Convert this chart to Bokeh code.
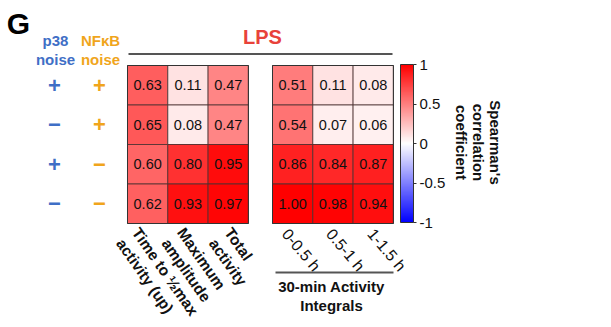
import numpy as np
from bokeh.plotting import figure
from bokeh.models import Range1d, ColumnDataSource, LinearColorMapper, ColorBar, FixedTicker
from bokeh.core.properties import value
from bokeh.embed import file_html
from bokeh.resources import INLINE

# ---------------- data ----------------
p38_noise = ["+", "\u2212", "+", "\u2212"]
nfkb_noise = ["+", "+", "\u2212", "\u2212"]
left_metrics = [["Time to \u00bdmax", "activity (up)"], ["Maximum", "amplitude"], ["Total", "activity"]]
right_metrics = ["0-0.5 h", "0.5-1 h", "1-1.5 h"]
left_values = [
    [0.63, 0.11, 0.47],
    [0.65, 0.08, 0.47],
    [0.60, 0.80, 0.95],
    [0.62, 0.93, 0.97],
]
right_values = [
    [0.51, 0.11, 0.08],
    [0.54, 0.07, 0.06],
    [0.86, 0.84, 0.87],
    [1.00, 0.98, 0.94],
]
cbar_ticks = [-1, -0.5, 0, 0.5, 1]
cbar_labels = ["-1", "-0.5", "0", "0.5", "1"]

# ---------------- layout ----------------
W, H = 611, 327
CW, RH = 40.3, 39.5
LX0, RX0, Y0 = 127.0, 272.0, 65.0
FONT = "Liberation Sans"
BLUE = "#3f6fc6"
ORANGE = "#f0a51c"
LPS_RED = "#e8423a"

# diverging palette blue-white-red
pal = []
for t in np.linspace(0, 1, 256):
    if t < 0.5:
        f = t / 0.5
        r, g, b = int(255 * f), int(255 * f), 255
    else:
        f = (t - 0.5) / 0.5
        r, g, b = 255, int(255 * (1 - f)), int(255 * (1 - f))
    pal.append("#%02x%02x%02x" % (r, g, b))
mapper = LinearColorMapper(palette=pal, low=-1, high=1)

p = figure(width=W, height=H, x_range=Range1d(0, W), y_range=Range1d(H, 0),
           output_backend="svg", toolbar_location=None, min_border=0,
           x_axis_type=None, y_axis_type=None)
p.grid.visible = False
p.outline_line_color = None

# heatmap cells
xs, ys, vs, ts = [], [], [], []
for x0, vals in ((LX0, left_values), (RX0, right_values)):
    for r, row in enumerate(vals):
        for c, v in enumerate(row):
            xs.append(x0 + CW * (c + 0.5))
            ys.append(Y0 + RH * (r + 0.5))
            vs.append(v)
            ts.append("%.2f" % v)
src = ColumnDataSource(dict(x=xs, y=ys, v=vs, t=ts))
p.rect("x", "y", width=CW, height=RH, source=src,
       fill_color={"field": "v", "transform": mapper},
       line_color="#4a3030", line_width=1, line_alpha=0.8)
p.text("x", "y", text="t", source=src, text_align="center", text_baseline="middle",
       text_font=value(FONT), text_font_size="14.5px", text_color="#111111")

# block outlines
for x0 in (LX0, RX0):
    p.rect([x0 + CW * 1.5], [Y0 + RH * 2], width=CW * 3, height=RH * 4,
           fill_alpha=0, line_color="#333333", line_width=1)

# noise indicators
row_y = [Y0 + RH * (r + 0.5) for r in range(len(p38_noise))]
p.text([54] * 4, row_y, text=p38_noise, text_align="center", text_baseline="middle",
       text_font=value(FONT), text_font_style="bold", text_font_size="22px", text_color=BLUE)
p.text([99] * 4, row_y, text=nfkb_noise, text_align="center", text_baseline="middle",
       text_font=value(FONT), text_font_style="bold", text_font_size="22px", text_color=ORANGE)
for cx, lines, col in ((55, ["p38", "noise"], BLUE), (100, ["NF\u03baB", "noise"], ORANGE)):
    p.text([cx, cx], [40, 59], text=lines, text_align="center", text_baseline="middle",
           text_font=value(FONT), text_font_style="bold", text_font_size="15px", text_color=col)
p.text([18], [23], text=["G"], text_align="center", text_baseline="middle",
       text_font=value(FONT), text_font_style="bold", text_font_size="30px", text_color="black")

# LPS header
p.text([262], [36], text=["LPS"], text_align="center", text_baseline="middle",
       text_font=value(FONT), text_font_style="bold", text_font_size="20px", text_color=LPS_RED)
p.segment(x0=[128], y0=[53.5], x1=[392], y1=[53.5], line_color="#555555", line_width=2)

# bottom labels (left block, two lines each)
ang_l = 55.0
lh = 19
dxl, dyl = -np.sin(np.radians(ang_l)) * lh, np.cos(np.radians(ang_l)) * lh
left_off = [-5, 0, 7]
for c, lines in enumerate(left_metrics):
    bx = LX0 + CW * (c + 0.5) + left_off[c]
    by = 224
    p.text([bx + k * dxl for k in range(len(lines))], [by + k * dyl for k in range(len(lines))],
           text=lines, angle=-ang_l, angle_units="deg", text_align="left", text_baseline="top",
           text_font=value(FONT), text_font_style="bold", text_font_size="15.5px", text_color="#111111")
right_off = [-1, 3, 4]
rx = [RX0 + CW * (c + 0.5) + right_off[c] for c in range(3)]
p.text(rx, [225] * 3, text=right_metrics, angle=-50, angle_units="deg",
       text_align="left", text_baseline="top", text_font=value(FONT),
       text_font_size="16px", text_color="#111111")
p.segment(x0=[275], y0=[272], x1=[393], y1=[272], line_color="#555555", line_width=2)
p.text([331, 331], [286, 305], text=["30-min Activity", "Integrals"], text_align="center",
       text_baseline="middle", text_font=value(FONT), text_font_style="bold",
       text_font_size="15px", text_color="#111111")

# colorbar title
p.text([495, 478, 461], [142, 142, 142], text=["Spearman's", "correlation", "coefficient"],
       angle=-90, angle_units="deg", text_align="center", text_baseline="middle",
       text_font=value(FONT), text_font_style="bold", text_font_size="15px", text_color="#111111")

cb = ColorBar(color_mapper=mapper, width=13, height=158, location=(400, H - 222),
              padding=0, margin=0, ticker=FixedTicker(ticks=cbar_ticks),
              major_label_overrides={t: l for t, l in zip(cbar_ticks, cbar_labels)},
              major_label_text_font=FONT, major_label_text_font_size="15px",
              major_label_text_color="#111111", major_tick_in=0, major_tick_out=3,
              major_tick_line_color="#333333", bar_line_color="#333333",
              background_fill_alpha=0, border_line_color=None, label_standoff=3)
p.add_layout(cb, "center")

open("out.html", "w").write(file_html(p, INLINE))
